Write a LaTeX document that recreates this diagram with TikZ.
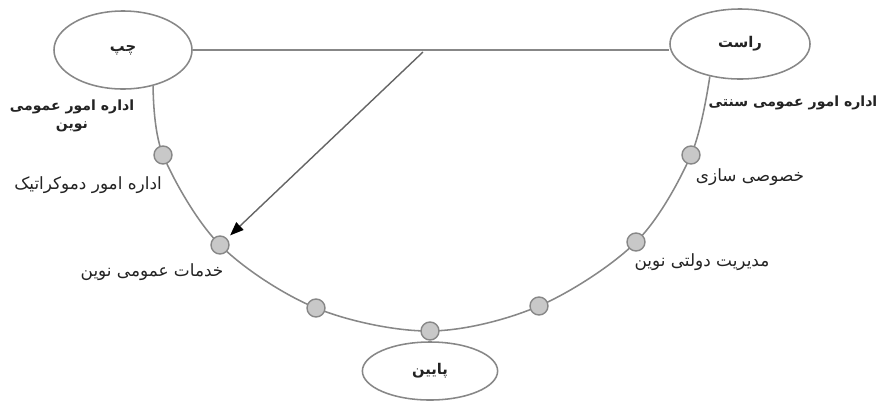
\documentclass[tikz,border=0pt]{standalone}
\usepackage{fontspec}
\newfontfamily\farsi[Script=Arabic]{DejaVu Sans}
\TeXXeTstate=1
\usetikzlibrary{arrows.meta, shapes.geometric, positioning, calc}
\definecolor{LineGray}{RGB}{135,135,135}
\definecolor{DotFill}{RGB}{200,200,200}
\definecolor{TextDark}{RGB}{35,35,35}
\newcommand{\fa}[1]{\beginR #1\endR}

\begin{document}
\begin{tikzpicture}[x=0.025cm, y=-0.025cm,
	font=\farsi\fontsize{12}{14}\selectfont, text=TextDark,
	qotb/.style={ellipse, draw=LineGray, line width=1.1pt, fill=white, inner sep=0pt,
		font=\farsi\bfseries\fontsize{10.5}{12}\selectfont},
	noqte/.style={circle, draw=LineGray, line width=1pt, fill=DotFill,
		minimum size=0.45cm, inner sep=0pt},
	barchasb/.style={inner sep=1pt},
	barjaste/.style={inner sep=1pt, align=center,
		font=\farsi\bfseries\fontsize{10}{13}\selectfont},
	mehvar/.style={draw=LineGray, line width=1.1pt},
	fl/.style={-{Triangle[length=3.4mm, width=2.6mm, color=black]},
		draw=LineGray!75!black, line width=1pt, shorten >=3pt}]

	\useasboundingbox (0,0) rectangle (880,403);

	% the three poles
	\node[qotb, minimum width=3.45cm, minimum height=1.95cm] (chap) at (123,50) {\fa{چپ}};
	\node[qotb, minimum width=3.5cm, minimum height=1.75cm] (rast) at (740,44) {\fa{راست}};
	\node[qotb, minimum width=3.38cm, minimum height=1.45cm] (paeen) at (430,371) {\fa{پایین}};

	\draw[mehvar] (chap.east) -- (chap.east -| rast.west);
	\draw[mehvar] plot[smooth, tension=0.55] coordinates {(chap.-50) (163,155) (220,245)
		(316,308) (430,331) (539,306) (636,242) (691,155) (rast.-133)};

	% points on the arc
	\node[noqte] (n1) at (163,155) {};
	\node[noqte] (n2) at (220,245) {};
	\node[noqte] (n3) at (316,308) {};
	\node[noqte] (n4) at (430,331) {};
	\node[noqte] (n5) at (539,306) {};
	\node[noqte] (n6) at (636,242) {};
	\node[noqte] (n7) at (691,155) {};

	\coordinate (shakhe) at (423,52);
	\draw[fl] (shakhe) -- (n2);

	\node[barjaste] (ch1) at (72,116) {\fa{اداره امور عمومی}\\\fa{نوین}};
	\node[barjaste, anchor=east] (ra1) at (879,103) {\fa{اداره امور عمومی سنتی}};
	\node[barchasb] (ch2) at (88,185) {\fa{اداره امور دموکراتیک}};
	\node[barchasb] (ch3) at (152,272) {\fa{خدمات عمومی نوین}};
	\node[barchasb] (ra2) at (750,177) {\fa{خصوصی سازی}};
	\node[barchasb] (ra3) at (702,262) {\fa{مدیریت دولتی نوین}};
\end{tikzpicture}
\end{document}
